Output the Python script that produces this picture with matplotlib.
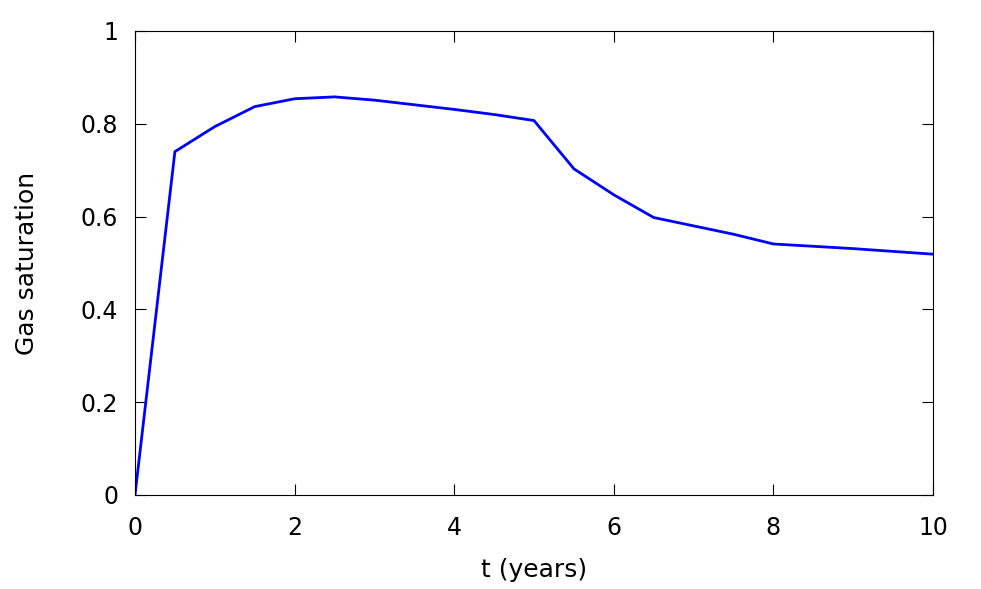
import matplotlib
matplotlib.use("Agg")
import matplotlib.pyplot as plt

# gas saturation over time
t_years = [0, 0.5, 1, 1.5, 2, 2.5, 3, 3.5, 4, 4.5, 5, 5.5, 6, 6.5, 7, 7.5, 8, 8.5, 9, 9.5, 10]
gas_sat = [0, 0.740, 0.794, 0.837, 0.854, 0.858, 0.851, 0.841, 0.831, 0.820, 0.807,
           0.703, 0.647, 0.598, 0.580, 0.562, 0.541, 0.536, 0.531, 0.525, 0.519]

fig = plt.figure(figsize=(9.81, 5.89), dpi=100)
ax = fig.add_axes([135 / 981, 1 - 495 / 589, (933 - 135) / 981, (495 - 31) / 589])

ax.plot(t_years, gas_sat, color="#0000ff", linewidth=2.0)

ax.set_xlim(0, 10)
ax.set_ylim(0, 1)
ax.set_xticks([0, 2, 4, 6, 8, 10])
ax.set_yticks([0, 0.2, 0.4, 0.6, 0.8, 1])
ax.set_yticklabels(["0", "0.2", "0.4", "0.6", "0.8", "1"])
ax.tick_params(direction="in", length=8, width=0.8, top=True, right=True,
               labelsize=17)
ax.tick_params(axis="x", pad=15)
ax.tick_params(axis="y", pad=12)
for s in ax.spines.values():
    s.set_linewidth(0.8)

ax.set_xlabel("t (years)", fontsize=18)
ax.set_ylabel("Gas saturation", fontsize=18, va="center")
ax.xaxis.set_label_coords(0.5, (495 - 558) / 464)
ax.yaxis.set_label_coords((27 - 135) / 798, 0.5)

fig.savefig("out.png", dpi=100)
